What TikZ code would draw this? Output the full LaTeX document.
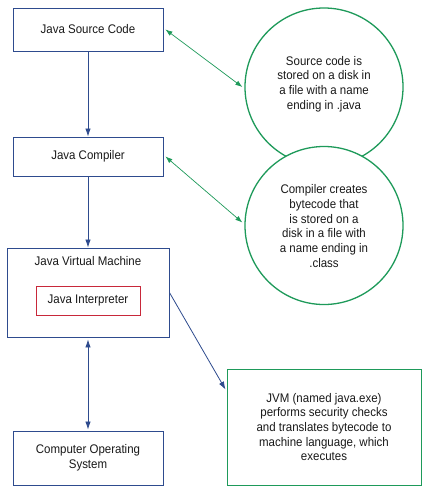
\documentclass[tikz,border=0pt]{standalone}
\usepackage{fontspec}
\setmainfont{Liberation Sans}[FakeStretch=0.92]
\usetikzlibrary{arrows.meta,calc}
\definecolor{boxblue}{HTML}{2E4B8E}
\definecolor{grn}{HTML}{1E9A5A}
\definecolor{rd}{HTML}{C8283A}
\begin{document}
\begin{tikzpicture}[x=1pt,y=-1pt,
  every node/.style={font=\fontsize{12.5}{14.7}\selectfont, text=black!90, align=center, inner sep=0pt},
  bluebox/.style={draw=boxblue, line width=0.9pt, rectangle},
  greenbox/.style={draw=grn, line width=1pt, rectangle},
  greencirc/.style={draw=grn, line width=1.3pt, circle, minimum size=158pt, fill=white},
  redbox/.style={draw=rd, line width=0.9pt, rectangle},
  bluearrow/.style={draw=boxblue, line width=0.8pt, -{Latex[length=8pt,width=5.5pt]}},
  bluedouble/.style={draw=boxblue, line width=0.8pt, {Latex[length=8pt,width=5.5pt]}-{Latex[length=8pt,width=5.5pt]}},
  greendouble/.style={draw=grn, line width=0.7pt, {Latex[length=7pt,width=5pt]}-{Latex[length=7pt,width=5pt]}}]
\useasboundingbox[fill=white] (0,0) rectangle (428,493);

\node[bluebox, minimum width=150pt, minimum height=43pt] (src) at (88,29.5) {Java Source Code};
\node[bluebox, minimum width=150pt, minimum height=39pt] (comp) at (88,156.5) {Java Compiler};
\node[bluebox, minimum width=162pt, minimum height=89pt] (jvm) at (88,292.5) {};
\node (jvmlabel) at (88,261) {Java Virtual Machine};
\node[redbox, minimum width=104pt, minimum height=29pt] (interp) at (88,300.5) {Java Interpreter};
\node[bluebox, minimum width=150pt, minimum height=54pt] (os) at (88,458) {Computer Operating\\System};

\node[greencirc] (c1) at (324,87) {};
\node (t1) at (324,84) {Source code is\\stored on a disk in\\a file with a name\\ending in .java};
\node[greencirc] (c2) at (324,225.5) {};
\node (t2) at (324,226) {Compiler creates\\bytecode that\\is stored on a\\disk in a file with\\a name ending in\\.class};

\node[greenbox, minimum width=194pt, minimum height=116pt] (exe) at (324,427) {JVM (named java.exe)\\performs security checks\\and translates bytecode to\\machine language, which\\executes};

\coordinate (exein) at ($(exe.north west)!0.18!(exe.south west)$);

\draw[bluearrow] (src.south) -- (comp.north);
\draw[bluearrow] (comp.south) -- (jvm.north);
\draw[bluedouble] ([yshift=-2pt]jvm.south) -- ([yshift=1pt]os.north);
\draw[bluearrow] (jvm.east) -- ([xshift=-1pt]exein);
\draw[greendouble] ([xshift=2pt]src.east) -- ([xshift=-2pt]c1.west);
\draw[greendouble] ([xshift=2pt]comp.east) -- ([xshift=-2pt,yshift=3pt]c2.west);
\end{tikzpicture}
\end{document}
